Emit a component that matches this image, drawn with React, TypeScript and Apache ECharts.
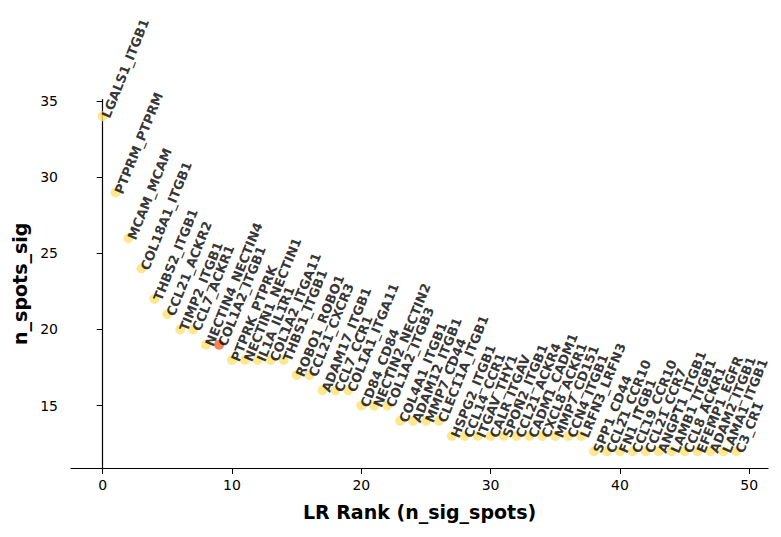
import React, { useEffect, useRef } from "react";
import * as echarts from "echarts";

// Ligand–receptor pairs ranked by number of significant spots
const lrPairs: string[] = [
  "LGALS1_ITGB1", "PTPRM_PTPRM", "MCAM_MCAM", "COL18A1_ITGB1", "THBS2_ITGB1",
  "CCL21_ACKR2", "TIMP2_ITGB1", "CCL7_ACKR1", "NECTIN4_NECTIN4", "COL1A2_ITGB1",
  "PTPRK_PTPRK", "NECTIN1_NECTIN1", "IL1A_IL1R1", "COL1A2_ITGA11", "THBS1_ITGB1",
  "ROBO1_ROBO1", "CCL21_CXCR3", "ADAM17_ITGB1", "CCL7_CCR1", "COL1A1_ITGA11",
  "CD84_CD84", "NECTIN2_NECTIN2", "COL1A2_ITGB3", "COL4A1_ITGB1", "ADAM12_ITGB1",
  "MMP7_CD44", "CLEC11A_ITGB1", "HSPG2_ITGB1", "CCL14_CCR1", "ITGAV_THY1",
  "CALR_ITGAV", "SPON2_ITGB1", "CCL21_ACKR4", "CADM1_CADM1", "CXCL8_ACKR1",
  "MMP7_CD151", "CCN4_ITGB1", "LRFN3_LRFN3", "SPP1_CD44", "CCL21_CCR10",
  "FN1_ITGB1", "CCL19_CCR10", "CCL21_CCR7", "ANGPT1_ITGB1", "LAMB1_ITGB1",
  "CCL8_ACKR1", "EFEMP1_EGFR", "ADAM2_ITGB1", "LAMA1_ITGB1", "C3_CR1",
];

const nSpotsSig: number[] = [
  34, 29, 26, 24, 22, 21, 20, 20, 19, 19,
  18, 18, 18, 18, 18, 17, 17, 16, 16, 16,
  15, 15, 15, 14, 14, 14, 14, 13, 13, 13,
  13, 13, 13, 13, 13, 13, 13, 13, 12, 12,
  12, 12, 12, 12, 12, 12, 12, 12, 12, 12,
];

const highlightedPairs: string[] = ["COL1A2_ITGB1"];

const xTicks: number[] = [0, 10, 20, 30, 40, 50];
const yTicks: number[] = [15, 20, 25, 30, 35];

const FONT = "DejaVu Sans";

export default function App() {
  const ref = useRef<HTMLDivElement>(null);

  useEffect(() => {
    if (!ref.current) return;
    const chart = echarts.init(ref.current, null, { renderer: "svg" });

    const points = lrPairs.map((name, i) => ({
      name,
      value: [i, nSpotsSig[i]],
      itemStyle: {
        color: highlightedPairs.includes(name) ? "#f2672a" : "#fde277",
      },
      z: highlightedPairs.includes(name) ? 3 : 2,
    }));

    const axisLine = { show: true, lineStyle: { color: "#000", width: 1.2 } };

    chart.setOption({
      animation: false,
      backgroundColor: "#fff",
      grid: { left: 71, top: 99.5, right: 13, bottom: 69, containLabel: false },
      xAxis: {
        type: "value",
        min: -2.45,
        max: 51.45,
        name: "LR Rank (n_sig_spots)",
        nameLocation: "middle",
        nameGap: 34,
        nameTextStyle: { fontFamily: FONT, fontWeight: "bold", fontSize: 19, color: "#000" },
        axisLine,
        axisTick: { show: true, length: 6, customValues: xTicks, lineStyle: { color: "#000", width: 1 } },
        axisLabel: { customValues: xTicks, margin: 10, fontFamily: FONT, fontSize: 14, color: "#000" },
        splitLine: { show: false },
      },
      yAxis: {
        type: "value",
        min: 10.9,
        max: 35.1,
        name: "n_spots_sig",
        nameLocation: "middle",
        nameRotate: 90,
        nameGap: 38,
        nameTextStyle: { fontFamily: FONT, fontWeight: "bold", fontSize: 19, color: "#000" },
        axisLine,
        axisTick: { show: true, length: 6, customValues: yTicks, lineStyle: { color: "#000", width: 1 } },
        axisLabel: { customValues: yTicks, margin: 13, fontFamily: FONT, fontSize: 14, color: "#000" },
        splitLine: { show: false },
      },
      series: [
        {
          type: "scatter",
          symbol: "circle",
          symbolSize: 10,
          data: points,
          label: {
            show: true,
            formatter: (p: any) => p.name,
            position: [8, 6],
            align: "left",
            verticalAlign: "middle",
            rotate: 68,
            offset: [2, 0],
            fontFamily: FONT,
            fontWeight: "bold",
            fontSize: 13,
            color: "#000",
          },
          labelLayout: { hideOverlap: false },
        },
      ],
    });

    return () => chart.dispose();
  }, []);

  return (
    <div
      ref={ref}
      style={{ position: "absolute", left: 0, top: 0, width: 781, height: 537 }}
    />
  );
}
